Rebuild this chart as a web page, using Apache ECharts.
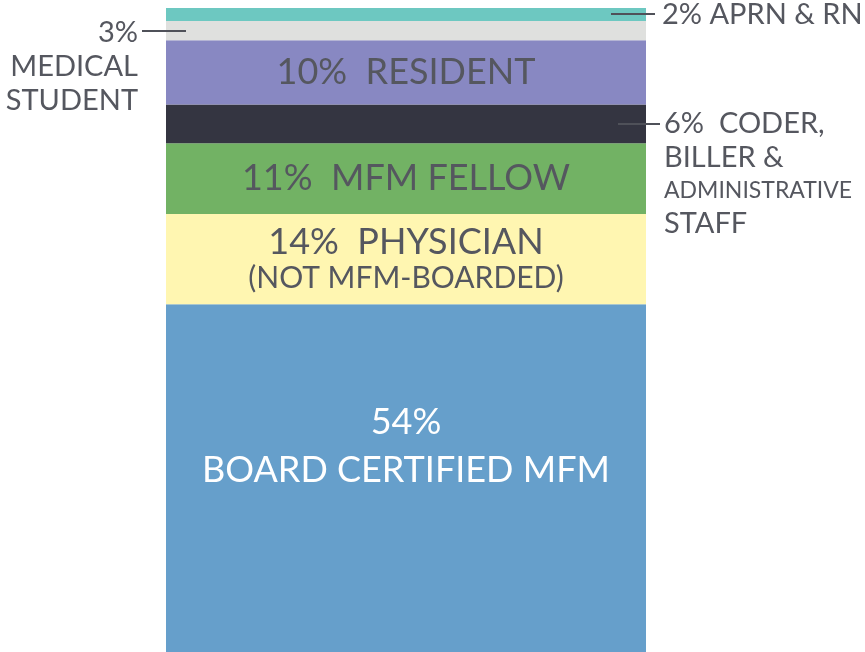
<!DOCTYPE html>
<html>
<head>
<meta charset="utf-8">
<script src="https://cdn.jsdelivr.net/npm/echarts@6/dist/echarts.min.js"></script>
<style>
html,body{margin:0;padding:0;background:#fff;}
#chart{width:865px;height:652px;}
</style>
</head>
<body>
<div id="chart"></div>
<script>
// ---- data (bottom to top of the stacked bar) ----
const categories = ['Staff'];
const segmentNames = ['BOARD CERTIFIED MFM', 'PHYSICIAN (NOT MFM-BOARDED)', 'MFM FELLOW', 'CODER, BILLER & ADMINISTRATIVE STAFF', 'RESIDENT', 'MEDICAL STUDENT', 'APRN & RN'];
const segmentValues = [54, 14, 11, 6, 10, 3, 2];
const segmentColors = ['#669FCB', '#FFF6B1', '#72B264', '#343541', '#8888C2', '#DFE0DE', '#6DC8C1'];

const FONT = 'Lato';
const FW = 400;
const TXT = '#55575F';
const GRID_LEFT = 166, GRID_RIGHT = 219, GRID_TOP = 8, GRID_BOTTOM = 0;

const labels = [
  { show: true, position: 'inside', offset: [0, -32], color: '#fff', fontFamily: FONT, fontWeight: FW, fontSize: 36, lineHeight: 48,
    formatter: () => segmentValues[0] + '%\n' + segmentNames[0] },
  { show: true, position: 'inside', fontFamily: FONT, color: TXT,
    formatter: () => '{a|' + segmentValues[1] + '%  PHYSICIAN}\n{b|(NOT MFM-BOARDED)}',
    rich: { a: { fontSize: 36, lineHeight: 38, color: TXT, fontFamily: FONT, fontWeight: FW }, b: { fontSize: 30, lineHeight: 34, color: TXT, fontFamily: FONT, fontWeight: FW } } },
  { show: true, position: 'inside', fontFamily: FONT, fontWeight: FW, color: TXT, fontSize: 36,
    formatter: () => segmentValues[2] + '%  ' + segmentNames[2] },
  { show: true, position: 'right', distance: 18, verticalAlign: 'top', offset: [0, -17], fontFamily: FONT, color: TXT,
    formatter: () => '{a|' + segmentValues[3] + '%  CODER,}\n{a|BILLER &}\n{b|ADMINISTRATIVE}\n{a|STAFF}',
    rich: { a: { fontSize: 29, lineHeight: 34, color: TXT, fontFamily: FONT, fontWeight: FW }, b: { fontSize: 23, lineHeight: 32, color: TXT, fontFamily: FONT, fontWeight: FW } } },
  { show: true, position: 'inside', fontFamily: FONT, fontWeight: FW, color: TXT, fontSize: 36,
    formatter: () => segmentValues[4] + '%  ' + segmentNames[4] },
  { show: true, position: 'left', distance: 28, verticalAlign: 'top', offset: [0, -15], align: 'right', fontFamily: FONT, color: TXT,
    formatter: () => '{a|' + segmentValues[5] + '%}\n{a|MEDICAL}\n{a|STUDENT}',
    rich: { a: { fontSize: 29, lineHeight: 34, color: TXT, fontFamily: FONT, fontWeight: FW, align: 'right' } } },
  { show: true, position: 'right', distance: 16, fontFamily: FONT, fontWeight: FW, color: TXT, fontSize: 29,
    formatter: () => segmentValues[6] + '% ' + segmentNames[6] }
];

const chart = echarts.init(document.getElementById('chart'), null, { renderer: 'canvas' });
const series = segmentValues.map((v, i) => ({
  name: segmentNames[i],
  type: 'bar',
  stack: 'total',
  barWidth: '100%',
  data: [v],
  itemStyle: { color: segmentColors[i] },
  label: labels[i],
  emphasis: { disabled: true },
  animation: false
}));

chart.setOption({
  animation: false,
  grid: { left: GRID_LEFT, right: GRID_RIGHT, top: GRID_TOP, bottom: GRID_BOTTOM, containLabel: false },
  xAxis: { type: 'category', data: categories, show: false },
  yAxis: { type: 'value', min: 0, max: 100, show: false },
  series: series
});

// leader lines to the outside labels, positioned from the data through the y axis
function segMidY(i) {
  let base = 0;
  for (let k = 0; k < i; k++) base += segmentValues[k];
  return Math.round(chart.convertToPixel({ yAxisIndex: 0 }, base + segmentValues[i] / 2));
}
const barLeft = GRID_LEFT, barRight = chart.getWidth() - GRID_RIGHT;
const lineStyle = { stroke: '#4F5159', lineWidth: 2 };
chart.setOption({
  graphic: [
    { type: 'line', shape: { x1: barLeft - 24, y1: segMidY(5), x2: barLeft + 20, y2: segMidY(5) }, style: lineStyle, z: 10 },
    { type: 'line', shape: { x1: barRight - 35, y1: segMidY(6), x2: barRight + 9, y2: segMidY(6) }, style: lineStyle, z: 10 },
    { type: 'line', shape: { x1: barRight - 28, y1: segMidY(3), x2: barRight + 14, y2: segMidY(3) }, style: lineStyle, z: 10 }
  ]
});
</script>
</body>
</html>
